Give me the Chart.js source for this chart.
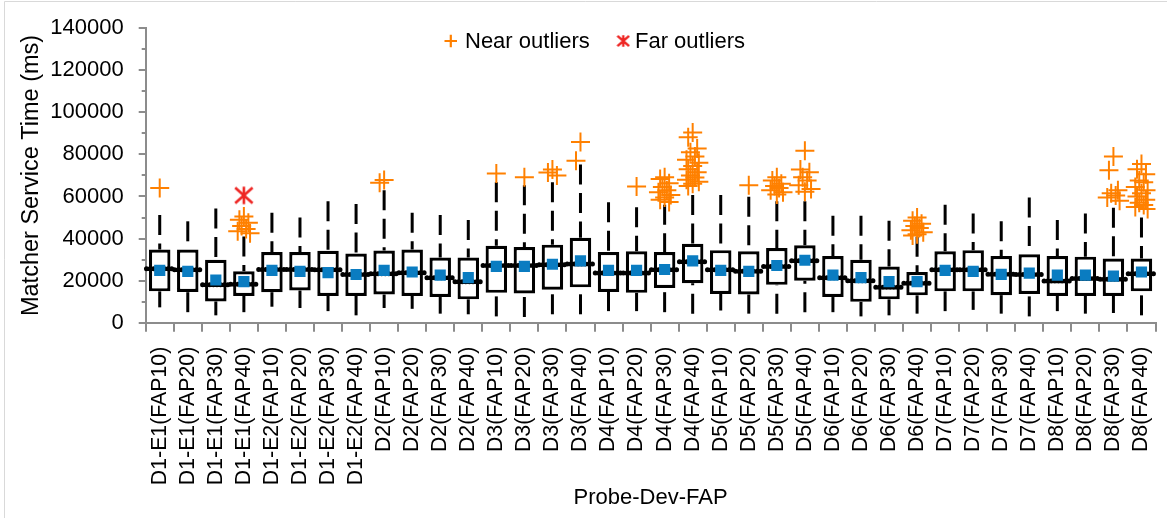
<!DOCTYPE html>
<html>
<head>
<meta charset="utf-8">
<title>Matcher Service Time by Probe-Dev-FAP</title>
<script src="https://cdn.jsdelivr.net/npm/chart.js@4/dist/chart.umd.min.js"></script>
<style>
  html, body { margin: 0; padding: 0; background: #ffffff; }
  #wrap { position: relative; width: 1167px; height: 518px; }
</style>
</head>
<body>
<div id="wrap"><canvas id="chart" width="1167" height="518"></canvas></div>
<script>
// ---- data ----------------------------------------------------------------
const categories = [
  'D1-E1(FAP10)', 'D1-E1(FAP20)', 'D1-E1(FAP30)', 'D1-E1(FAP40)',
  'D1-E2(FAP10)', 'D1-E2(FAP20)', 'D1-E2(FAP30)', 'D1-E2(FAP40)',
  'D2(FAP10)', 'D2(FAP20)', 'D2(FAP30)', 'D2(FAP40)',
  'D3(FAP10)', 'D3(FAP20)', 'D3(FAP30)', 'D3(FAP40)',
  'D4(FAP10)', 'D4(FAP20)', 'D4(FAP30)', 'D4(FAP40)',
  'D5(FAP10)', 'D5(FAP20)', 'D5(FAP30)', 'D5(FAP40)',
  'D6(FAP10)', 'D6(FAP20)', 'D6(FAP30)', 'D6(FAP40)',
  'D7(FAP10)', 'D7(FAP20)', 'D7(FAP30)', 'D7(FAP40)',
  'D8(FAP10)', 'D8(FAP20)', 'D8(FAP30)', 'D8(FAP40)'
];

const whiskerLow = [7300, 5000, 3500, 5000, 7600, 7000, 5500, 3500, 7000, 6600, 4300, 4000,
                    3000, 2700, 4000, 4000, 5500, 5500, 5000, 4300, 5800, 4300, 4300, 5000,
                    5000, 3000, 3500, 4300, 5500, 6100, 4300, 3000, 5500, 4300, 4600, 3500];
const q1 = [14900, 14600, 10100, 12700, 14500, 15300, 12700, 12700, 13400, 12700, 12200, 11100,
            14200, 13900, 15700, 16800, 14600, 14200, 16500, 18800, 13700, 13400, 18000, 20000,
            12200, 9900, 11100, 13000, 14900, 14900, 13100, 13700, 12700, 12700, 12700, 14900];
const median = [25600, 25200, 18000, 18300, 25300, 25300, 25200, 22900, 23300, 23800, 21400, 19500,
                27200, 27200, 27500, 27900, 23600, 23600, 25200, 29000, 25200, 24400, 26700, 29400,
                21400, 20000, 16800, 18800, 25200, 25200, 23000, 22900, 19800, 21000, 20700, 23300];
const mean = [24900, 24400, 20300, 19500, 24900, 24400, 23800, 22900, 24900, 24100, 22600, 21400,
              26800, 26800, 27800, 29400, 24900, 24900, 25300, 29400, 24900, 24400, 27200, 29700,
              22600, 21400, 19500, 19500, 24900, 24400, 23000, 23600, 22600, 22600, 22100, 24100];
const q3 = [34800, 34800, 29900, 24400, 33600, 33600, 34200, 32900, 34300, 34800, 31000, 31000,
            36600, 36000, 37100, 40400, 33600, 34000, 33600, 37500, 34500, 34000, 35500, 36800,
            31700, 29900, 26700, 24100, 34000, 34500, 31700, 32500, 31700, 31400, 30500, 30500];
const whiskerHigh = [51200, 48200, 54300, 41000, 52300, 50000, 57700, 56400, 63000, 52300, 51200, 48800,
                     66800, 65300, 66800, 75200, 57300, 54900, 56100, 60700, 60700, 59900, 57700, 57700,
                     50800, 50800, 48500, 40900, 56100, 51900, 48200, 59500, 48800, 51900, 54600, 50000];

// [category index, outlier values]
const nearOutliers = [
  [0,  [64000]],
  [3,  [50500, 49000, 47500, 46000, 44500, 43500, 42500]],
  [8,  [67800, 66500]],
  [12, [70900]],
  [13, [69100]],
  [14, [72800, 71400, 70000]],
  [15, [85900, 77000]],
  [17, [64800]],
  [18, [69100, 68300, 66300, 64500, 63000, 62000, 60700, 59500, 58400, 57400]],
  [19, [90400, 88200, 82800, 81000, 79000, 77500, 76000, 74500, 73000, 71500, 70000, 69000, 68000, 67000, 66000, 65000]],
  [21, [65300]],
  [22, [69100, 67600, 66000, 65000, 64000, 63000, 62000, 61000]],
  [23, [81800, 72800, 71500, 69100, 67600, 65300, 63500, 62200]],
  [27, [50000, 48500, 47000, 46000, 45000, 44000, 43000, 42000, 41500]],
  [34, [79000, 72500, 63000, 61500, 60500, 59500, 58000]],
  [35, [75500, 73000, 70600, 67600, 66800, 64500, 63000, 61500, 60000, 58500, 57000, 56000, 55000, 54000]]
];
const farOutliers = [
  [3, [60500]]
];

const yMin = 0;
const yMax = 140000;
const yMajorStep = 20000;
const yMinorStep = 10000;

// ---- styling helpers -----------------------------------------------------
const FONT = '"Liberation Sans", Arial, sans-serif';
const AXIS_GREY = '#8c8c8c';
const NEAR_COLOR = '#ff8000';
const FAR_COLOR = '#ee2624';
const MEAN_COLOR = '#0a7cc1';

Chart.defaults.font.family = FONT;
Chart.defaults.color = '#000';

// small sideways spread so stacked outlier markers stay distinguishable
const dodge = [0, -0.16, 0.16, -0.08, 0.08, -0.22, 0.22];
function outlierPoints(groups) {
  const pts = [];
  groups.forEach(([cat, values]) => {
    values.forEach((v, k) => {
      const shift = values.length > 1 ? dodge[k % dodge.length] : 0;
      pts.push({ x: cat + shift, y: v });
    });
  });
  return pts;
}

function asteriskMarker(size, lineWidth, color) {
  const c = document.createElement('canvas');
  c.width = size; c.height = size;
  const g = c.getContext('2d');
  const m = size / 2, r = size / 2 - lineWidth / 2;
  g.strokeStyle = color;
  g.lineWidth = lineWidth;
  g.beginPath();
  g.moveTo(m, m - r); g.lineTo(m, m + r);
  g.moveTo(m - r, m - r * 0.9); g.lineTo(m + r, m + r * 0.9);
  g.moveTo(m + r, m - r * 0.9); g.lineTo(m - r, m + r * 0.9);
  g.stroke();
  return c;
}
const farMarker = asteriskMarker(20, 2.6, FAR_COLOR);
const farLegendMarker = asteriskMarker(14, 2.4, FAR_COLOR);

// ---- plugins -------------------------------------------------------------
const background = {
  id: 'background',
  beforeDraw(chart) {
    const { ctx, width, height } = chart;
    ctx.save();
    ctx.fillStyle = '#ffffff';
    ctx.fillRect(0, 0, width, height);
    ctx.strokeStyle = '#d9d9d9';
    ctx.lineWidth = 1;
    ctx.beginPath();
    ctx.moveTo(4.5, height);
    ctx.lineTo(4.5, 1.5);
    ctx.lineTo(width, 1.5);
    ctx.stroke();
    ctx.restore();
  }
};

// whiskers and medians drawn right after the boxes, below the means and outliers
const whiskers = {
  id: 'whiskers',
  afterDatasetDraw(chart, args) {
    if (args.index !== 0) return;
    const { ctx, scales: { x, y } } = chart;
    const bars = args.meta.data;
    ctx.save();
    ctx.strokeStyle = '#000';
    ctx.lineWidth = 3;
    ctx.lineCap = 'butt';
    ctx.setLineDash([20, 8.5]);
    categories.forEach((_, i) => {
      const cx = x.getPixelForValue(i);
      ctx.beginPath();
      ctx.moveTo(cx, y.getPixelForValue(whiskerHigh[i]));
      ctx.lineTo(cx, y.getPixelForValue(q3[i]));
      ctx.stroke();
      ctx.beginPath();
      ctx.moveTo(cx, y.getPixelForValue(whiskerLow[i]));
      ctx.lineTo(cx, y.getPixelForValue(q1[i]));
      ctx.stroke();
    });
    ctx.setLineDash([0, 3.6]);
    ctx.lineCap = 'round';
    ctx.lineWidth = 5;
    bars.forEach((bar, i) => {
      const half = bar.width / 2 + 2.5;
      const my = y.getPixelForValue(median[i]);
      ctx.beginPath();
      ctx.moveTo(bar.x - half, my);
      ctx.lineTo(bar.x + half, my);
      ctx.stroke();
    });
    ctx.restore();
  }
};

// minor tick marks on the value axis
const minorTicks = {
  id: 'minorTicks',
  afterDraw(chart) {
    const { ctx, scales: { y }, chartArea } = chart;
    ctx.save();
    ctx.strokeStyle = AXIS_GREY;
    ctx.lineWidth = 2;
    for (let v = yMin + yMinorStep; v < yMax; v += yMajorStep) {
      const py = Math.round(y.getPixelForValue(v));
      ctx.beginPath();
      ctx.moveTo(chartArea.left - 4, py);
      ctx.lineTo(chartArea.left, py);
      ctx.stroke();
    }
    ctx.restore();
  }
};

// legend placed inside the plot, top centre
const outlierLegend = {
  id: 'outlierLegend',
  afterDraw(chart) {
    const { ctx } = chart;
    const ds = chart.data.datasets;
    const yMid = 41;
    ctx.save();
    ctx.font = '22px ' + FONT;
    ctx.fillStyle = '#000';
    ctx.textBaseline = 'middle';
    ctx.textAlign = 'left';
    ctx.strokeStyle = NEAR_COLOR;
    ctx.lineWidth = 2.2;
    ctx.beginPath();
    ctx.moveTo(444.5, yMid); ctx.lineTo(457, yMid);
    ctx.moveTo(450.8, yMid - 6.3); ctx.lineTo(450.8, yMid + 6.3);
    ctx.stroke();
    ctx.fillText(ds[2].label, 465, yMid + 1);
    ctx.drawImage(farLegendMarker, 623.3 - 7, yMid - 7);
    ctx.fillText(ds[3].label, 635, yMid + 1);
    ctx.restore();
  }
};

// ---- chart ---------------------------------------------------------------
new Chart(document.getElementById('chart'), {
  type: 'bar',
  data: {
    labels: categories,
    datasets: [
      {
        type: 'bar',
        label: 'Interquartile range',
        data: categories.map((_, i) => [q1[i], q3[i]]),
        backgroundColor: '#ffffff',
        borderColor: '#000000',
        borderWidth: 3.2,
        borderSkipped: false,
        grouped: false,
        barPercentage: 0.766,
        categoryPercentage: 1,
        order: 3
      },
      {
        type: 'line',
        label: 'Mean',
        data: mean,
        showLine: false,
        pointStyle: 'rect',
        pointRadius: 7.9,
        pointBackgroundColor: MEAN_COLOR,
        pointBorderWidth: 0,
        order: 2
      },
      {
        type: 'scatter',
        label: 'Near outliers',
        data: outlierPoints(nearOutliers),
        xAxisID: 'xo',
        pointStyle: 'cross',
        pointRadius: 9.5,
        pointBorderColor: NEAR_COLOR,
        borderColor: NEAR_COLOR,
        pointBorderWidth: 2,
        order: 1
      },
      {
        type: 'scatter',
        label: 'Far outliers',
        data: outlierPoints(farOutliers),
        xAxisID: 'xo',
        pointStyle: farMarker,
        pointRadius: 10,
        order: 0
      }
    ]
  },
  options: {
    responsive: false,
    animation: false,
    events: [],
    layout: { padding: { left: 0, right: 1.3, top: 16.7, bottom: 0 } },
    plugins: {
      legend: { display: false },
      tooltip: { enabled: false }
    },
    scales: {
      x: {
        type: 'category',
        offset: true,
        grid: { offset: true, drawOnChartArea: false, tickLength: 9, color: AXIS_GREY, lineWidth: 2 },
        border: { color: AXIS_GREY, width: 2 },
        ticks: {
          autoSkip: false, maxRotation: 90, minRotation: 90,
          color: '#000', font: { size: 21.3 }, padding: 15
        },
        title: {
          display: true, text: 'Probe-Dev-FAP', color: '#000',
          font: { size: 22 }, padding: { top: 0, bottom: 7 }
        },
        afterFit(s) { s.height = 195.3; s.paddingLeft = 0; s.paddingRight = 0; }
      },
      xo: {
        type: 'linear',
        display: false,
        offset: false,
        grid: { offset: false },
        min: -0.5,
        max: categories.length - 0.5
      },
      y: {
        min: yMin,
        max: yMax,
        ticks: {
          stepSize: yMajorStep, color: '#000', font: { size: 22 }, padding: 15,
          callback: (v) => String(v)
        },
        grid: { drawOnChartArea: false, tickLength: 7, color: AXIS_GREY, lineWidth: 2 },
        border: { color: AXIS_GREY, width: 2 },
        title: {
          display: true, text: 'Matcher Service Time (ms)', color: '#000',
          font: { size: 23.5 }, padding: { top: 17, bottom: 0 }
        },
        afterFit(s) { s.width = 145.7; }
      }
    }
  },
  plugins: [background, whiskers, minorTicks, outlierLegend]
});
</script>
</body>
</html>
